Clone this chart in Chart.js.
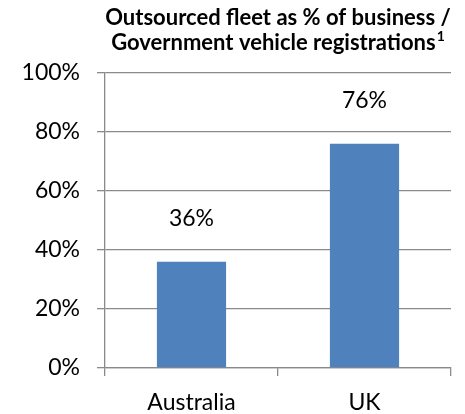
<!DOCTYPE html>
<html>
<head>
<meta charset="utf-8">
<script src="https://cdn.jsdelivr.net/npm/chart.js@4"></script>
<style>
  html, body { margin: 0; padding: 0; background: #fff; }
  #wrap { width: 465px; height: 414px; }
</style>
</head>
<body>
<div id="wrap"><canvas id="chart" width="465" height="414"></canvas></div>
<script>
const categories = ["Australia", "UK"];
const shareValues = [36, 76];
const tickValues = [0, 20, 40, 60, 80, 100];
const titleLines = ["Outsourced fleet as % of business /", "Government vehicle registrations"];
const titleNote = "1";

const FONT = "Lato";
const AXIS_GRAY = "#8a8a8a";
const BAR_BLUE = "#4f81bd";

const titlePlugin = {
  id: "twoLineTitle",
  afterDraw(chart) {
    const ctx = chart.ctx;
    const area = chart.chartArea;
    const cx = (area.left + area.right) / 2;
    ctx.save();
    ctx.fillStyle = "#000";
    ctx.textBaseline = "alphabetic";
    ctx.font = "bold 22px " + FONT;
    ctx.textAlign = "center";
    ctx.fillText(titleLines[0], cx, 25);

    const w2 = ctx.measureText(titleLines[1]).width;
    ctx.font = "bold 14px " + FONT;
    const wn = ctx.measureText(titleNote).width;
    const startX = cx - (w2 + wn + 1) / 2;
    ctx.textAlign = "left";
    ctx.font = "bold 22px " + FONT;
    ctx.fillText(titleLines[1], startX, 50);
    ctx.font = "bold 14px " + FONT;
    ctx.fillText(titleNote, startX + w2 + 1, 41);
    ctx.restore();
  }
};

const valueLabels = {
  id: "valueLabels",
  afterDatasetsDraw(chart) {
    const ctx = chart.ctx;
    const meta = chart.getDatasetMeta(0);
    ctx.save();
    ctx.font = "23px " + FONT;
    ctx.fillStyle = "#000";
    ctx.textAlign = "center";
    ctx.textBaseline = "middle";
    meta.data.forEach((bar, i) => {
      ctx.fillText(shareValues[i] + "%", bar.x, bar.y - 43);
    });
    ctx.restore();
  }
};

new Chart(document.getElementById("chart"), {
  type: "bar",
  data: {
    labels: categories,
    datasets: [{
      data: shareValues,
      backgroundColor: BAR_BLUE,
      borderWidth: 0,
      categoryPercentage: 1,
      barPercentage: 0.4
    }]
  },
  options: {
    responsive: false,
    animation: false,
    layout: { padding: { top: 73, right: 14, left: 0, bottom: 0 } },
    plugins: {
      legend: { display: false },
      title: { display: false },
      tooltip: { enabled: false }
    },
    scales: {
      x: {
        afterFit(scale) { scale.height = 46; },
        grid: {
          offset: true,
          drawOnChartArea: false,
          color: AXIS_GRAY,
          tickLength: 8,
          lineWidth: 1.3
        },
        border: { color: AXIS_GRAY, width: 1.3 },
        ticks: {
          color: "#000",
          padding: 13,
          font: { family: FONT, size: 23 }
        }
      },
      y: {
        min: 0,
        max: 100,
        afterFit(scale) { scale.width = 105; },
        afterBuildTicks(scale) {
          scale.ticks = tickValues.map(v => ({ value: v }));
        },
        grid: {
          color: AXIS_GRAY,
          tickLength: 8,
          lineWidth: 1.3
        },
        border: { color: AXIS_GRAY, width: 1.3 },
        ticks: {
          color: "#000",
          padding: 17,
          font: { family: FONT, size: 23 },
          callback: v => v + "%"
        }
      }
    }
  },
  plugins: [titlePlugin, valueLabels]
});
</script>
</body>
</html>
